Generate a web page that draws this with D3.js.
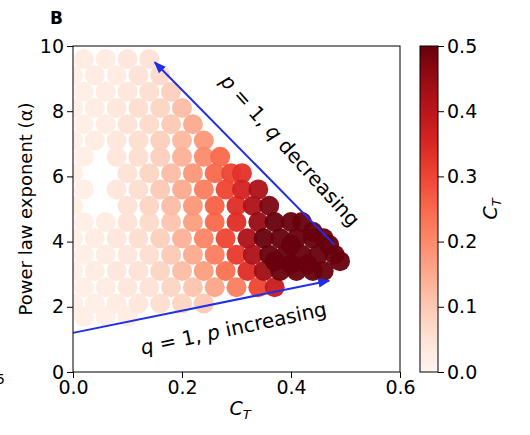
<!DOCTYPE html><html><head><meta charset="utf-8">
<script src="https://cdn.jsdelivr.net/npm/d3@7"></script>
<style>body{margin:0;background:#fff}text{font-family:"DejaVu Sans",sans-serif}</style></head><body>
<svg id="c" width="530" height="435"></svg>
<script>
const xTicks=[0,0.2,0.4,0.6];
const yTicks=[0,2,4,6,8,10];
const cTicks=[0,0.1,0.2,0.3,0.4,0.5];
// [C_T, alpha, colour value]
const rows=[
[9.6,[[.02,.03],[.06,.03],[.10,.04],[.14,.05]]],
[9.1,[[.0,.02],[.04,.03],[.08,.03],[.12,.05],[.16,.07]]],
[8.6,[[.02,.02],[.06,.03],[.10,.04],[.14,.06],[.18,.09]]],
[8.1,[[.0,.02],[.04,.03],[.08,.04],[.12,.06],[.16,.08],[.20,.12]]],
[7.6,[[.02,.02],[.06,.03],[.10,.05],[.14,.07],[.18,.10],[.22,.15]]],
[7.1,[[.0,.02],[.04,.03],[.08,.04],[.12,.06],[.16,.09],[.20,.13],[.24,.18]]],
[6.6,[[.02,.02],[.08,.04],[.12,.06],[.16,.09],[.20,.14],[.24,.2],[.27,.25]]],
[6.1,[[.0,.02],[.10,.05],[.14,.08],[.18,.12],[.22,.18],[.26,.25],[.29,.3],[.31,.33]]],
[5.6,[[.02,.02],[.08,.04],[.12,.06],[.16,.1],[.20,.15],[.24,.22],[.28,.3],[.31,.36],[.34,.42]]],
[5.1,[[.0,.02],[.10,.05],[.14,.08],[.18,.12],[.22,.18],[.26,.26],[.30,.34],[.33,.42],[.36,.48]]],
[4.6,[[.02,.02],[.06,.03],[.10,.05],[.14,.07],[.18,.11],[.22,.17],[.26,.25],[.30,.34],[.34,.45],[.37,.5],[.40,.5],[.42,.5]]],
[4.1,[[.0,.02],[.04,.03],[.08,.04],[.12,.06],[.16,.09],[.20,.14],[.24,.21],[.28,.3],[.32,.42],[.35,.5],[.38,.5],[.41,.5],[.44,.5],[.46,.5]]],
[3.6,[[.02,.02],[.06,.03],[.10,.04],[.14,.06],[.18,.1],[.22,.15],[.26,.22],[.30,.32],[.33,.42],[.36,.5],[.39,.5],[.42,.5],[.45,.5],[.48,.5]]],
[3.1,[[.0,.02],[.04,.03],[.08,.04],[.12,.05],[.16,.08],[.20,.12],[.24,.17],[.28,.24],[.32,.34],[.35,.44],[.38,.5],[.41,.5],[.44,.5],[.46,.5]]],
[2.6,[[.02,.02],[.06,.03],[.10,.04],[.14,.05],[.18,.08],[.22,.11],[.26,.16],[.30,.22],[.34,.3],[.37,.38]]],
[2.1,[[.0,.02],[.04,.02],[.08,.03],[.12,.04],[.16,.06],[.20,.08],[.24,.1]]],
[1.7,[[.02,.02],[.06,.02],[.10,.03]]]
];
const extra=[[.40,3.9,.5],[.43,3.3,.5],[.47,3.9,.5],[.44,4.3,.5],[.37,3.4,.5],[.49,3.4,.5],[.40,3.3,.5]];
const points=rows.flatMap(([y,ps])=>ps.map(([x,c])=>[x,y,c])).concat(extra).sort((a,b)=>a[2]-b[2]);

const svg=d3.select("#c");
const L=73,R=400,T=46,B=372;
const x=d3.scaleLinear().domain([0,0.6]).range([L,R]);
const y=d3.scaleLinear().domain([0,10]).range([B,T]);
const col=d3.scaleSequential(d3.interpolateReds).domain([0,0.5]);
svg.append("defs").append("clipPath").attr("id","cp").append("rect").attr("x",L).attr("y",T).attr("width",R-L).attr("height",B-T);
svg.append("g").attr("clip-path","url(#cp)").selectAll("circle").data(points).join("circle")
 .attr("cx",d=>x(d[0])).attr("cy",d=>y(d[1])).attr("r",10).attr("fill",d=>col(d[2])).attr("opacity",0.95);
const mk=svg.append("defs").append("marker").attr("id","ah").attr("viewBox","0 0 10 10").attr("refX",9).attr("refY",5)
 .attr("markerWidth",6).attr("markerHeight",6).attr("orient","auto");
mk.append("path").attr("d","M0,1L10,5L0,9Z").attr("fill","#1f2fe8");
svg.append("line").attr("x1",x(0.48)).attr("y1",y(3.9)).attr("x2",x(0.15)).attr("y2",y(9.5)).attr("stroke","#1f2fe8").attr("stroke-width",2).attr("marker-end","url(#ah)");
svg.append("line").attr("x1",x(0)).attr("y1",y(1.2)).attr("x2",x(0.47)).attr("y2",y(2.8)).attr("stroke","#1f2fe8").attr("stroke-width",2).attr("marker-end","url(#ah)");
svg.append("text").attr("transform","translate(285,155) rotate(48)").attr("text-anchor","middle").attr("font-size",20).html('<tspan font-style="italic">p</tspan> = 1, <tspan font-style="italic">q</tspan> decreasing');
svg.append("text").attr("transform","translate(235,335) rotate(-12)").attr("text-anchor","middle").attr("font-size",20).html('<tspan font-style="italic">q</tspan> = 1, <tspan font-style="italic">p</tspan> increasing');
const gx=svg.append("g").attr("transform",`translate(0,${B})`).call(d3.axisBottom(x).tickValues(xTicks).tickFormat(d3.format(".1f")).tickSizeOuter(0));
const gy=svg.append("g").attr("transform",`translate(${L},0)`).call(d3.axisLeft(y).tickValues(yTicks).tickFormat(d3.format("d")).tickSizeOuter(0));
[gx,gy].forEach(g=>{g.selectAll("text").attr("font-size",19).attr("fill","#000");g.selectAll("line").attr("stroke","#000");g.select(".domain").remove();});
svg.append("rect").attr("x",L).attr("y",T).attr("width",R-L).attr("height",B-T).attr("fill","none").attr("stroke","#000");
const cb=d3.scaleLinear().domain([0,0.5]).range([B,T]);
const grad=svg.append("defs").append("linearGradient").attr("id","g").attr("x1",0).attr("y1",1).attr("x2",0).attr("y2",0);
d3.range(0,1.01,0.1).forEach(t=>grad.append("stop").attr("offset",t).attr("stop-color",d3.interpolateReds(t)));
svg.append("rect").attr("x",420).attr("y",T).attr("width",18).attr("height",B-T).attr("fill","url(#g)").attr("stroke","#000");
const gc=svg.append("g").attr("transform","translate(438,0)").call(d3.axisRight(cb).tickValues(cTicks).tickFormat(d3.format(".1f")).tickSizeOuter(0));
gc.select(".domain").remove();gc.selectAll("text").attr("font-size",19).attr("fill","#000");
svg.append("text").attr("transform","translate(497,209) rotate(-90)").attr("text-anchor","middle").attr("font-size",19).html('<tspan font-style="italic">C</tspan><tspan font-style="italic" font-size="13" dy="4">T</tspan>');
svg.append("text").attr("x",240).attr("y",415).attr("text-anchor","middle").attr("font-size",19).html('<tspan font-style="italic">C</tspan><tspan font-style="italic" font-size="13" dy="4">T</tspan>');
svg.append("text").attr("transform","translate(32,209) rotate(-90)").attr("text-anchor","middle").attr("font-size",18).text("Power law exponent (α)");
svg.append("text").attr("x",50).attr("y",24).attr("font-size",17).attr("font-weight","bold").text("B");
svg.append("text").attr("x",-4).attr("y",384).attr("font-size",14).text("5");
</script></body></html>
